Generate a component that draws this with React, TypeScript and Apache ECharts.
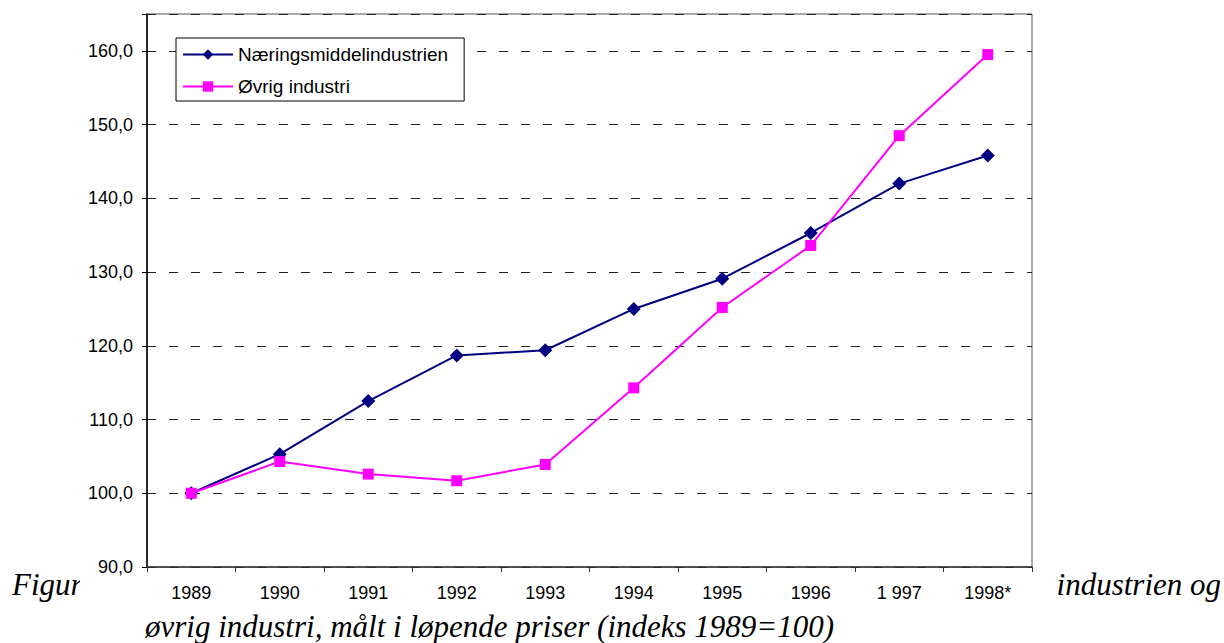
import React, { useEffect, useRef } from "react";
import * as echarts from "echarts";

const years = ["1989", "1990", "1991", "1992", "1993", "1994", "1995", "1996", "1 997", "1998*"];
const naeringName = "Næringsmiddelindustrien";
const ovrigName = "Øvrig industri";
const naering = [100.0, 105.3, 112.5, 118.7, 119.4, 125.0, 129.1, 135.3, 142.0, 145.8];
const ovrig = [100.0, 104.3, 102.6, 101.7, 103.9, 114.3, 125.2, 133.6, 148.5, 159.5];
const yMin = 90;
const yMax = 165;
const yStep = 10;
const captionLeft = "Figur";
const captionRight = "industrien og";
const captionLine2 = "øvrig industri, målt i løpende priser (indeks 1989=100)";

const SANS = "Liberation Sans, Arial, sans-serif";
const SERIF = "Liberation Serif, DejaVu Serif, Times New Roman, serif";

const captionText = {
  fontFamily: SERIF,
  fontStyle: "italic" as const,
  fontWeight: "normal" as const,
  fontSize: 31,
  lineHeight: 40,
  color: "#000",
};

export default function App() {
  const ref = useRef<HTMLDivElement>(null);
  useEffect(() => {
    document.body.style.margin = "0";
    if (!ref.current) return;
    const chart = echarts.init(ref.current, null, { renderer: "svg" });
    chart.setOption({
      animation: false,
      backgroundColor: "#ffffff",
      title: [
        { text: captionLeft, left: 12, top: 564, padding: 0, z: 1, textStyle: captionText },
        { text: captionRight, right: 3, top: 564, padding: 0, z: 1, textStyle: captionText },
        { text: captionLine2, left: 145, top: 606, padding: 0, z: 1, textStyle: captionText },
      ],
      graphic: [
        {
          type: "rect",
          z: 2,
          shape: { x: 80, y: 0, width: 978, height: 607 },
          style: { fill: "#ffffff" },
        },
      ],
      grid: {
        left: 147,
        right: 192,
        top: 14,
        bottom: 76,
        show: true,
        borderColor: "#555",
        borderWidth: 1,
        backgroundColor: "transparent",
        z: 10,
      },
      legend: {
        orient: "vertical",
        left: 176,
        top: 38,
        z: 12,
        padding: [7, 16, 5, 6],
        itemGap: 13,
        itemWidth: 50,
        itemHeight: 13,
        backgroundColor: "#ffffff",
        borderColor: "#000",
        borderWidth: 1,
        textStyle: { fontFamily: SANS, fontSize: 19, color: "#000" },
        data: [naeringName, ovrigName],
      },
      xAxis: {
        type: "category",
        data: years,
        boundaryGap: true,
        z: 10,
        axisLine: { lineStyle: { color: "#333", width: 1.5 } },
        axisTick: { show: true, length: 5, inside: false, lineStyle: { color: "#333" } },
        axisLabel: { color: "#000", fontFamily: SANS, fontSize: 18, margin: 17 },
        splitLine: { show: false },
      },
      yAxis: {
        type: "value",
        min: yMin,
        max: yMax,
        interval: yStep,
        z: 10,
        axisLine: { show: true, lineStyle: { color: "#000", width: 1.5 } },
        axisTick: { show: true, length: 5, lineStyle: { color: "#000" } },
        axisLabel: {
          color: "#000",
          fontFamily: SANS,
          fontSize: 18,
          margin: 14,
          formatter: (v: number) => (v > 160 ? "" : v.toFixed(1).replace(".", ",")),
        },
        splitLine: { show: true, lineStyle: { color: "#222", type: [9, 13], width: 1 } },
      },
      series: [
        {
          name: naeringName,
          type: "line",
          data: naering,
          z: 11,
          symbol: "diamond",
          symbolSize: 14,
          itemStyle: { color: "#000080" },
          lineStyle: { color: "#000080", width: 2 },
        },
        {
          name: ovrigName,
          type: "line",
          data: ovrig,
          z: 11,
          symbol: "rect",
          symbolSize: 11,
          itemStyle: { color: "#ff00ff" },
          lineStyle: { color: "#ff00ff", width: 2 },
        },
      ],
    });
    return () => chart.dispose();
  }, []);
  return <div ref={ref} style={{ width: 1224, height: 643 }} />;
}
